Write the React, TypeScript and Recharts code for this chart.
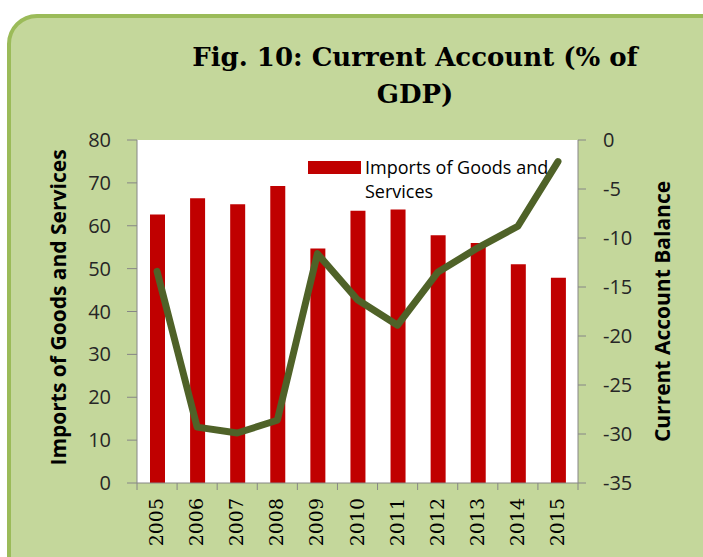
import React from 'react';
import {
  Bar,
  CartesianGrid,
  ComposedChart,
  Label,
  Line,
  XAxis,
  YAxis,
} from 'recharts';

const years = ['2005', '2006', '2007', '2008', '2009', '2010', '2011', '2012', '2013', '2014', '2015'];
const imports = [62.6, 66.4, 65.0, 69.3, 54.7, 63.5, 63.8, 57.8, 56.0, 51.0, 47.9];
const balance = [-13.4, -29.3, -29.9, -28.6, -11.6, -16.3, -18.9, -13.5, -11.0, -8.8, -2.2];
const leftTicks = [0, 10, 20, 30, 40, 50, 60, 70, 80];
const rightTicks = [-35, -30, -25, -20, -15, -10, -5, 0];

const data = years.map((year, i) => ({ year, imports: imports[i], balance: balance[i] }));

const AXIS = '#868686';
const TICK_FONT = { fontFamily: 'Open Sans', fontSize: 20, fill: '#262626' };
const TITLE_FONT = { fontFamily: 'Open Sans', fontWeight: 'bold', fontSize: 21, fill: '#000' };

function YearTick(props: any) {
  const { x, y, payload, index, visibleTicksCount } = props;
  const half = payload.offset ?? 20;
  const last = index === visibleTicksCount - 1;
  return (
    <g>
      <line x1={x - half} y1={y} x2={x - half} y2={y + 7} stroke={AXIS} />
      {last && <line x1={x + half} y1={y} x2={x + half} y2={y + 7} stroke={AXIS} />}
      <text
        x={x - 1}
        y={y + 15}
        transform={`rotate(-90, ${x - 1}, ${y + 15})`}
        textAnchor="end"
        dominantBaseline="central"
        fontFamily="DejaVu Serif"
        fontSize={19}
        fill="#000"
      >
        {payload.value}
      </text>
    </g>
  );
}

export default function App() {
  return (
    <div
      style={{
        position: 'absolute',
        left: 0,
        top: 0,
        width: 703,
        height: 557,
        background: '#fff',
        overflow: 'hidden',
      }}
    >
      <div
        style={{
          position: 'absolute',
          left: 7,
          top: 14,
          width: 730,
          height: 580,
          boxSizing: 'border-box',
          border: '4px solid #9bbb59',
          borderRadius: 30,
          background: '#c4d79b',
        }}
      />
      <div
        style={{
          position: 'absolute',
          left: 130,
          width: 570,
          top: 39,
          textAlign: 'center',
          fontFamily: 'DejaVu Serif',
          fontWeight: 'bold',
          fontSize: 26,
          lineHeight: '37px',
          color: '#000',
        }}
      >
        Fig. 10: Current Account (% of
        <br />
        GDP)
      </div>
      <ComposedChart
        width={703}
        height={557}
        data={data}
        margin={{ top: 140, right: 25, bottom: 4, left: 37 }}
        style={{ position: 'absolute', left: 0, top: 0 }}
      >
        <CartesianGrid horizontal={false} vertical={false} fill="#fff" />
        <XAxis
          dataKey="year"
          height={70}
          stroke={AXIS}
          tickLine={false}
          tickSize={0}
          tickMargin={0}
          interval={0}
          tick={<YearTick />}
        />
        <YAxis
          yAxisId="left"
          orientation="left"
          width={100}
          domain={[0, 80]}
          ticks={leftTicks}
          stroke={AXIS}
          tickSize={10}
          tickMargin={16}
          tick={TICK_FONT}
        >
          <Label
            value="Imports of Goods and Services"
            angle={-90}
            position="center"
            dx={-28}
            dy={-4}
            style={TITLE_FONT}
          />
        </YAxis>
        <YAxis
          yAxisId="right"
          orientation="right"
          width={100}
          domain={[-35, 0]}
          ticks={rightTicks}
          stroke={AXIS}
          tickSize={8}
          tickMargin={17}
          tick={{ ...TICK_FONT, textAnchor: 'start' }}
        >
          <Label
            value="Current Account Balance"
            angle={-90}
            position="center"
            dx={35}
            style={TITLE_FONT}
          />
        </YAxis>
        <Bar
          yAxisId="left"
          dataKey="imports"
          name="Imports of Goods and Services"
          fill="#c00000"
          barSize={15}
          isAnimationActive={false}
        />
        <Line
          yAxisId="right"
          dataKey="balance"
          name="Current Account Balance"
          type="linear"
          stroke="#4f6228"
          strokeWidth={7}
          strokeLinecap="round"
          strokeLinejoin="round"
          dot={false}
          activeDot={false}
          isAnimationActive={false}
        />
      </ComposedChart>
      <div
        style={{
          position: 'absolute',
          left: 308,
          top: 155,
          display: 'flex',
          alignItems: 'flex-start',
          fontFamily: 'Open Sans',
          fontSize: 18,
          lineHeight: '24px',
          color: '#000',
        }}
      >
        <span
          style={{
            display: 'inline-block',
            width: 53,
            height: 13,
            marginTop: 6,
            marginRight: 4,
            background: '#c00000',
          }}
        />
        <span style={{ width: 220 }}>
          Imports of Goods and
          <br />
          Services
        </span>
      </div>
    </div>
  );
}
